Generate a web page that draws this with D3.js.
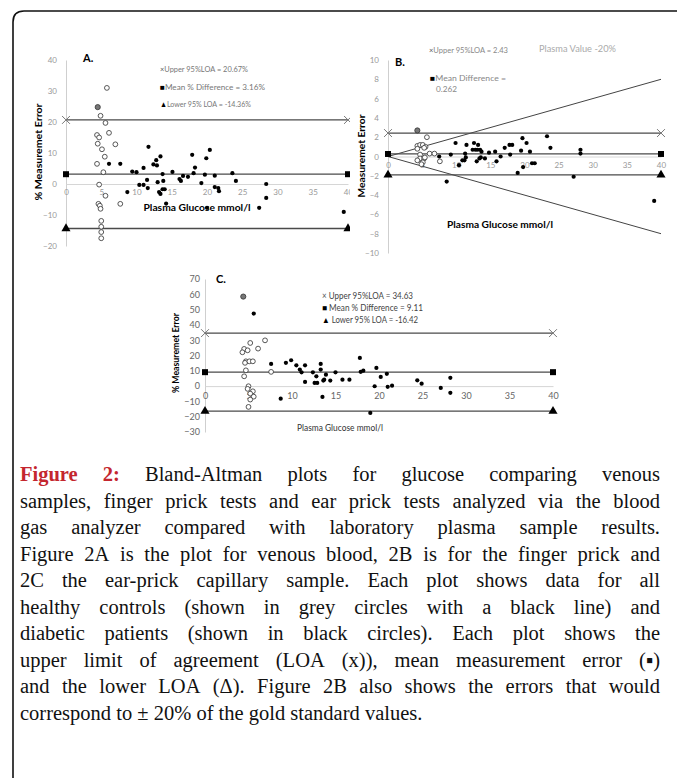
<!DOCTYPE html>
<html>
<head>
<meta charset="utf-8">
<script src="https://cdn.jsdelivr.net/npm/d3@7"></script>
<style>
  body { margin: 0; background: #fff; }
  svg { display: block; }
  .tick text { font-family: Lato, "Liberation Sans", sans-serif; }
</style>
</head>
<body>
<svg id="fig" width="677" height="778"></svg>
<script>
"use strict";

// x ticks shared by all three panels (Plasma Glucose mmol/l)
const xTicks = [0, 5, 10, 15, 20, 25, 30, 35, 40];
const yTicksA = [-20, -10, 0, 10, 20, 30, 40];
const yTicksB = [-10, -8, -6, -4, -2, 0, 2, 4, 6, 8, 10];
const yTicksC = [-30, -20, -10, 0, 10, 20, 30, 40, 50, 60, 70];

// limits of agreement: upper, mean, lower
const limitsA = [20.67, 3.16, -14.36];
const limitsB = [2.43, 0.262, -1.91];
const limitsC = [34.63, 9.11, -16.42];

const legendA = ["\u00d7Upper 95%LOA = 20.67%", "\u25a0Mean % Difference = 3.16%", "\u25b2Lower 95% LOA = -14.36%"];
const legendB = ["\u00d7Upper 95%LOA = 2.43", "\u25a0Mean Difference =", "0.262"];
const legendC = ["\u00d7 Upper 95%LOA = 34.63", "\u25a0 Mean % Difference = 9.11", "\u25b2 Lower 95% LOA = -16.42"];

// plasma value +/- 20% (panel B)
const plusTwenty = [[0, 0], [40, 8]];
const minusTwenty = [[0, 0], [40, -8]];

// Panel A: venous blood
const healthyA = [[5.8, 31], [4.9, 22], [5.6, 19.7], [6.1, 16.5], [4.4, 15.8], [4.7, 15], [4.5, 13], [7.0, 12.8],
    [5.1, 11.2], [5.5, 8.8], [4.4, 6.5], [5.3, 3.8], [4.7, -0.2], [5.6, -3.8], [4.6, -6.4], [4.8, -7], [4.9, -8],
    [7.7, -6.4], [5.0, -11.9], [5.0, -13.8], [5.0, -15.5], [5.0, -17.5]];
const greyA = [[4.5, 24.8]];
const diabeticA = [[6.1, 6.5], [7.7, 6.5], [11.7, 12], [9.4, 4], [10, 3.8], [11, 5.2], [12.4, 6.3], [12.8, 7.7],
    [12.9, 6], [13.4, 8.9], [13.7, 3.2], [15.1, 3.9], [17.9, 9.4], [18.3, 5.3], [18.1, 3.5], [19.9, 8.3], [20.4, 11],
    [19.7, 3], [21.1, 2.7], [23.6, 3.5], [10.4, -0.3], [11, -0.3], [11.5, 1.3], [11.6, -1.3], [8.7, -2.6], [13, 0.6],
    [13.8, 1], [13.2, -2.6], [13.4, -3.2], [13.7, -1.7], [14, -1.7], [16.1, 1.6], [16.3, 1], [16.6, 2.6], [17.3, 2.3],
    [19.2, 0.3], [21.1, -1], [21.6, -1.3], [21.7, -2.3], [24.1, 1], [28.4, 0], [28.4, -4.5], [27.4, -7.7],
    [14.2, -6.3], [20, -7.7], [39.4, -9]];

// Panel B: finger prick
const healthyB = [[5.7, 2.0], [4.3, 1.1], [4.7, 1.2], [5.1, 1.2], [5.5, 1.0], [5.3, 0.9], [4.3, 0.8], [4.7, 0.2],
    [6.1, 0.3], [6.8, 0.3], [7.6, -0.5], [4.7, -0.2], [5.3, -0.2], [4.3, -0.4], [5.1, -0.6], [4.9, -0.8], [5.4, -0.1]];
const greyB = [[4.3, 2.7]];
const diabeticB = [[7.5, 0.0], [9.2, 0.2], [9.9, 1.4], [10.4, -0.9], [10.9, -0.4], [11.2, -0.4], [11.3, 0.3],
    [11.4, -0.1], [11.5, 1.2], [12.6, 1.4], [13.2, 1.2], [12.4, 0.7], [12.8, 0.7], [13.1, 0.7], [13.5, 0.7],
    [13.7, 0.5], [13.0, -0.5], [13.4, -0.2], [13.6, -0.1], [14.2, -0.2], [14.8, 0.4], [15.7, 0.5], [15.9, -0.5],
    [16.5, 0.0], [17.1, 0.9], [17.8, 1.2], [18.2, 1.2], [17.9, 0.2], [19.7, 1.9], [20.3, 1.4], [19.5, 0.6],
    [19.0, -1.7], [21.1, -0.7], [21.5, -0.7], [20.8, 0.5], [19.8, -1.1], [23.3, 2.1], [23.8, 0.9], [28.2, 0.7],
    [28.2, 0.3], [27.2, -2.1], [39.0, -4.6], [8.6, -2.6]];

// Panel C: ear prick
const healthyC = [[4.5, 24.3], [4.3, 22.1], [4.9, 23.4], [5.2, 28.2], [6.1, 24.5], [6.9, 29.9], [4.7, 16.2],
    [4.6, 15.2], [5.1, 16.2], [5.5, 16.2], [4.7, 10.3], [4.5, 6.4], [5.0, -0.1], [4.9, -1.8], [5.5, -3.4],
    [5.2, -4.9], [5.6, -6.9], [5.2, -8.8], [5.0, -13.6], [7.6, 9.3]];
const greyC = [[4.4, 58.5]];
const diabeticC = [[5.6, 47.4], [7.6, 14.5], [8.7, -8.2], [9.3, 15.2], [9.9, 16.9], [10.5, 13.6], [10.9, 10.8],
    [11.1, 9.0], [11.5, 13.6], [11.5, 2.7], [12.4, 9.0], [12.6, 2.1], [12.8, 6.4], [12.9, 2.1], [13.3, 14.5],
    [13.3, 10.8], [13.5, -7.1], [13.6, 3.6], [13.7, 4.2], [13.9, 7.5], [14.4, 3.6], [15.0, 9.0], [15.8, 4.2],
    [16.6, 4.2], [17.8, 18.4], [17.9, 9.3], [18.2, 10.1], [19.0, -17.5], [19.7, 11.9], [19.5, -0.1], [20.2, 6.0],
    [20.9, 8.0], [21.0, -0.5], [21.5, 0.3], [24.4, 3.8], [24.9, 1.6], [27.1, -1.2], [28.2, 5.4], [28.2, -4.4]];

const captionLines = [
    "Bland-Altman plots for glucose comparing venous",
    "samples, finger prick tests and ear prick tests analyzed via the blood",
    "gas analyzer compared with laboratory plasma sample results.",
    "Figure 2A is the plot for venous blood, 2B is for the finger prick and",
    "2C the ear-prick capillary sample. Each plot shows data for all",
    "healthy controls (shown in grey circles with a black line) and",
    "diabetic patients (shown in black circles). Each plot shows the",
    "upper limit of agreement (LOA (x)), mean measurement error (\u25aa)",
    "and the lower LOA (\u0394). Figure 2B also shows the errors that would",
    "correspond to \u00b1 20% of the gold standard values."
];

const sans = "Lato, 'Liberation Sans', sans-serif";
const svg = d3.select("#fig");

// frame with rounded top-left corner, runs off the right and bottom
svg.append("path")
    .attr("d", "M13,790 L13,22 Q13,11 24,11 L690,11")
    .attr("fill", "none")
    .attr("stroke", "#111")
    .attr("stroke-width", 1.6);

svg.append("clipPath").attr("id", "clipA")
    .append("rect").attr("x", 0).attr("y", 0).attr("width", 350).attr("height", 270);

function addText(g, t, x, y, opts) {
    const el = g.append("text")
        .attr("x", x).attr("y", y)
        .attr("font-family", opts.family || sans)
        .attr("font-size", opts.size)
        .attr("font-weight", opts.weight || "normal")
        .attr("fill", opts.fill || "#000")
        .attr("text-anchor", opts.anchor || "start");
    // legend symbols (x, square, triangle) drawn darker than the label
    if (opts.symbol && /^[\u00d7\u25a0\u25b2]/.test(t)) {
        el.append("tspan").attr("fill", t[0] === "\u00d7" ? "#555" : "#000").text(t[0]);
        el.append("tspan").text(t.slice(1));
    } else {
        el.text(t);
    }
    if (opts.len) el.attr("textLength", opts.len).attr("lengthAdjust", "spacingAndGlyphs");
    if (opts.rotate) el.attr("transform", `rotate(-90,${x},${y})`);
    return el;
}

function drawPanel(p) {
    const g = svg.append("g");
    if (p.clip) g.attr("clip-path", `url(#${p.clip})`);
    const x = d3.scaleLinear().domain([0, 40]).range(p.xRange);
    const y = d3.scaleLinear().domain(p.yDomain).range(p.yRange);

    // y axis
    const ya = g.append("g")
        .attr("transform", `translate(${x(0)},0)`)
        .call(d3.axisLeft(y).tickValues(p.yTicks).tickSize(0).tickPadding(p.yPad).tickSizeOuter(0));
    ya.select(".domain").attr("stroke", "#cfcfcf");
    ya.selectAll("text").attr("font-size", p.tickSize).attr("fill", p.tickFill);

    // x axis at y = 0
    const xa = g.append("g")
        .attr("transform", `translate(0,${y(0)})`)
        .call(d3.axisBottom(x).tickValues(xTicks).tickSize(0).tickPadding(p.xPad).tickSizeOuter(0));
    xa.select(".domain").attr("stroke", "#d6d6d6");
    xa.selectAll("text").attr("font-size", p.tickSize).attr("fill", p.tickFill);

    // extra lines (plasma +/- 20%)
    (p.extraLines || []).forEach(l => {
        g.append("path")
            .attr("d", d3.line().x(d => x(d[0])).y(d => y(d[1]))(l))
            .attr("fill", "none").attr("stroke", "#444").attr("stroke-width", 1);
    });

    // limits of agreement
    g.selectAll(".loa").data(p.limits).enter().append("line")
        .attr("x1", x(0)).attr("x2", x(40))
        .attr("y1", d => y(d)).attr("y2", d => y(d))
        .attr("stroke", "#4a4a4a").attr("stroke-width", 1.3);

    const symbols = [d3.symbolX, d3.symbolSquare, d3.symbolTriangle];
    p.limits.forEach((v, i) => {
        [0, 40].forEach(xv => {
            const s = g.append("path")
                .attr("transform", `translate(${x(xv)},${y(v)})`)
                .attr("d", d3.symbol(symbols[i], i === 0 ? 42 : 36)());
            if (i === 0) s.attr("fill", "none").attr("stroke", "#777").attr("stroke-width", 1);
            else s.attr("fill", "#000");
        });
    });

    // points
    g.selectAll(".open").data(p.healthy).enter().append("circle")
        .attr("cx", d => x(d[0])).attr("cy", d => y(d[1])).attr("r", 2.4)
        .attr("fill", "#fff").attr("stroke", "#444").attr("stroke-width", 0.9);
    g.selectAll(".grey").data(p.grey).enter().append("circle")
        .attr("cx", d => x(d[0])).attr("cy", d => y(d[1])).attr("r", 2.6)
        .attr("fill", "#777").attr("stroke", "#333").attr("stroke-width", 0.8);
    g.selectAll(".dot").data(p.diabetic).enter().append("circle")
        .attr("cx", d => x(d[0])).attr("cy", d => y(d[1])).attr("r", 2.1)
        .attr("fill", "#000");

    return g;
}

// ---- Panel A ----
const gA = drawPanel({
    clip: "clipA", xRange: [66, 348], yRange: [246, 60], yDomain: [-20, 40], yTicks: yTicksA,
    yPad: 9, xPad: 5, tickSize: 8, tickFill: "#999",
    limits: limitsA, healthy: healthyA, grey: greyA, diabetic: diabeticA
});
addText(gA, "A.", 83, 62, {size: 11, weight: "bold"});
addText(gA, "% Measuremet Error", 42, 152, {size: 10, weight: "bold", anchor: "middle", rotate: true, len: 97});
addText(gA, "Plasma Glucose mmol/l", 197, 211, {size: 10, weight: "bold", anchor: "middle", len: 107});
legendA.forEach((t, i) => addText(gA, t, 160, [72, 90, 107][i],
    {size: 8, fill: "#777", len: [88, 105, 91][i], symbol: true}));

// ---- Panel B ----
const gB = drawPanel({
    xRange: [388, 661], yRange: [253, 60], yDomain: [-10, 10], yTicks: yTicksB,
    yPad: 9, xPad: 6, tickSize: 8, tickFill: "#999",
    limits: limitsB, healthy: healthyB, grey: greyB, diabetic: diabeticB,
    extraLines: [plusTwenty, minusTwenty]
});
addText(gB, "B.", 395, 66, {size: 11, weight: "bold"});
addText(gB, "Measuremet Error", 365, 156, {size: 10, weight: "bold", anchor: "middle", rotate: true, len: 83});
addText(gB, "Plasma Glucose mmol/l", 500, 228, {size: 10, weight: "bold", anchor: "middle", len: 106});
addText(gB, legendB[0], 429, 53, {size: 8, fill: "#888", len: 79, symbol: true});
addText(gB, legendB[1], 430, 81, {size: 8, fill: "#888", len: 76, symbol: true});
addText(gB, legendB[2], 436, 92, {size: 8, fill: "#888", len: 21});
addText(gB, "Plasma Value -20%", 539, 52, {size: 10, fill: "#aaa", len: 77});

// ---- Panel C ----
const gC = drawPanel({
    xRange: [205, 553], yRange: [432, 279], yDomain: [-30, 70], yTicks: yTicksC,
    yPad: 5, xPad: 7, tickSize: 9, tickFill: "#666",
    limits: limitsC, healthy: healthyC, grey: greyC, diabetic: diabeticC
});
addText(gC, "C.", 216, 283, {size: 11, weight: "bold"});
addText(gC, "% Measuremet Error", 179, 353, {size: 9, weight: "bold", anchor: "middle", rotate: true, len: 80});
addText(gC, "Plasma Glucose mmol/l", 340, 431, {size: 9, fill: "#333", anchor: "middle", len: 86});
legendC.forEach((t, i) => addText(gC, t, 322, [299, 311, 323][i],
    {size: 8.5, fill: "#444", len: [91, 101, 96][i], symbol: true}));

// ---- Caption (justified) ----
const serif = "'Liberation Serif', 'DejaVu Serif', serif";
const capSize = 20.5, capLeft = 20, capRight = 660, capTop = 481, capStep = 26.5;
const cap = svg.append("g");

function measure(word, weight) {
    const t = cap.append("text").attr("font-family", serif).attr("font-size", capSize)
        .attr("font-weight", weight).text(word);
    const w = t.node().getComputedTextLength();
    t.remove();
    return w;
}

captionLines.forEach((line, i) => {
    let words = line.split(" ").map(w => ({w: w, bold: false}));
    if (i === 0) words = [{w: "Figure", bold: true}, {w: "2:", bold: true}].concat(words);
    words.forEach(o => o.width = measure(o.w, o.bold ? "bold" : "normal"));
    const total = d3.sum(words, o => o.width);
    const last = i === captionLines.length - 1;
    const gap = last ? measure("a b", "normal") - measure("ab", "normal")
        : (capRight - capLeft - total) / (words.length - 1);
    let cx = capLeft;
    const yy = capTop + i * capStep;
    words.forEach(o => {
        cap.append("text")
            .attr("x", cx).attr("y", yy)
            .attr("font-family", serif).attr("font-size", capSize)
            .attr("font-weight", o.bold ? "bold" : "normal")
            .attr("fill", o.bold ? "#c4262e" : "#111")
            .text(o.w);
        cx += o.width + gap;
    });
});
</script>
</body>
</html>
